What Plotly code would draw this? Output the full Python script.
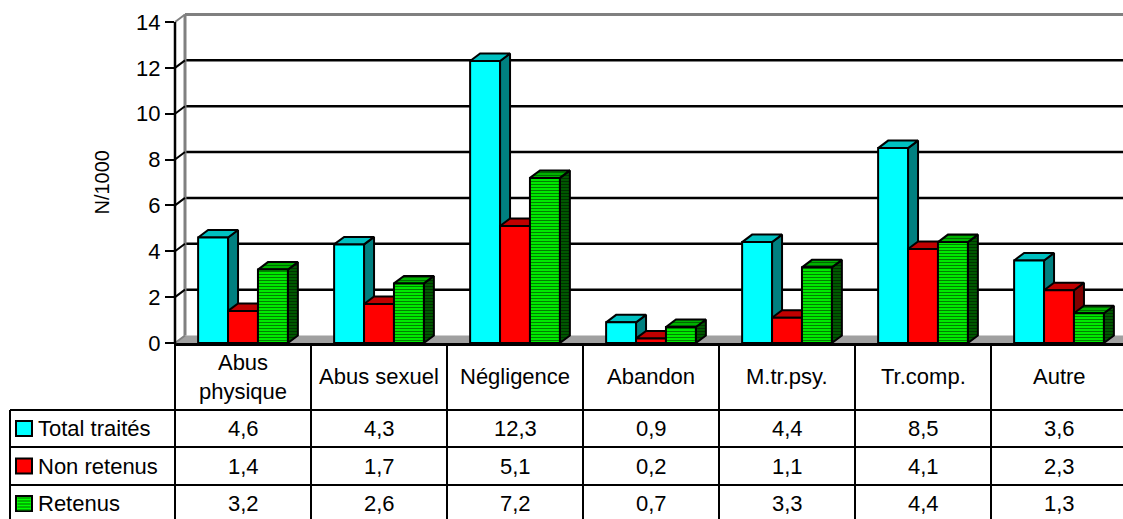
import plotly.graph_objects as go
import numpy as np

# ---- data -------------------------------------------------------------
categories = ["Abus physique", "Abus sexuel", "Négligence", "Abandon",
              "M.tr.psy.", "Tr.comp.", "Autre"]
header_labels = ["Abus<br>physique", "Abus sexuel", "Négligence", "Abandon",
                 "M.tr.psy.", "Tr.comp.", "Autre"]
series_names = ["Total traités", "Non retenus", "Retenus"]
total_traites = [4.6, 4.3, 12.3, 0.9, 4.4, 8.5, 3.6]
non_retenus = [1.4, 1.7, 5.1, 0.2, 1.1, 4.1, 2.3]
retenus = [3.2, 2.6, 7.2, 0.7, 3.3, 4.4, 1.3]
y_ticks = list(range(0, 15, 2))

# ---- geometry (pixels) ------------------------------------------------
W, H = 1123, 519
X0PX = 175          # front vertical axis
CW = 136            # pixels per category
Y0PX = 343          # value 0 on the front
UPX = 22.93         # pixels per unit
TOPPX = 12          # top of plotting area
DXPX, DYPX = 10, 7.5  # depth of the 3-D effect

DX = DXPX / CW
DY = DYPX / UPX
XMAX = -0.5 + (W - X0PX) / CW
YMAX = (Y0PX - TOPPX) / UPX

BW = 0.22
OFFSETS = [-0.33, -0.11, 0.11]

FONT = "Arial, 'Liberation Sans', sans-serif"
TXT = 22


def xp(px):
    return px / W


def yp(py):
    return 1 - py / H


def data_px_x(xd):
    return X0PX + (xd + 0.5) * CW


def data_px_y(yd):
    return Y0PX - yd * UPX


styles = [
    dict(front="#00FFFF", top="#00C0C0", side="#008080", pattern=None),
    dict(front="#FF0000", top="#C00000", side="#800000", pattern=None),
    dict(front="#00FF00", top="#00C000", side="#006000",
         pattern=("#008000", "#006800", "#003000")),
]
values = [total_traites, non_retenus, retenus]

fig = go.Figure()

# top and side faces of each bar (drawn on the base axes)
for s, (vals, st, off) in enumerate(zip(values, styles, OFFSETS)):
    tops_x, tops_y, sides_x, sides_y = [], [], [], []
    for i, v in enumerate(vals):
        x0 = i + off
        x1 = x0 + BW
        tops_x += [x0, x1, x1 + DX, x0 + DX, x0, None]
        tops_y += [v, v, v + DY, v + DY, v, None]
        sides_x += [x1, x1, x1 + DX, x1 + DX, x1, None]
        sides_y += [0, v, v + DY, DY, 0, None]
    for fx, fy, col, pidx in [(sides_x, sides_y, st["side"], 2),
                              (tops_x, tops_y, st["top"], 1)]:
        kw = {}
        if st["pattern"]:
            kw["fillpattern"] = dict(shape="-", bgcolor=col,
                                     fgcolor=st["pattern"][pidx],
                                     size=3, solidity=0.45)
        fig.add_trace(go.Scatter(
            x=fx, y=fy, mode="lines", fill="toself", fillcolor=col,
            line=dict(color="black", width=2), hoverinfo="skip",
            showlegend=False, **kw))

# front faces (overlay axes so they sit above the faces behind them)
for name, vals, st, off in zip(series_names, values, styles, OFFSETS):
    marker = dict(color=st["front"], line=dict(color="black", width=2))
    if st["pattern"]:
        marker["pattern"] = dict(shape="-", bgcolor=st["front"],
                                 fgcolor=st["pattern"][0], size=3,
                                 solidity=0.45, fillmode="replace")
    fig.add_trace(go.Bar(
        x=list(range(len(categories))), y=vals, width=BW, offset=off,
        name=name, marker=marker, xaxis="x2", yaxis="y2",
        showlegend=False))

shapes = []
# floor
shapes.append(dict(type="path", xref="x", yref="y", layer="below",
                   path=f"M-0.5,0 L{XMAX},0 L{XMAX},{DY} L{-0.5 + DX},{DY} Z",
                   fillcolor="#A0A0A0", line=dict(width=0)))
# back-wall gridlines and side-wall diagonals
for t in y_ticks:
    if t == 0:
        continue
    grid_col = "#808080" if t == y_ticks[-1] else "black"
    grid_w = 3 if t == y_ticks[-1] else 2.5
    shapes.append(dict(type="line", xref="x", yref="y", layer="below",
                       x0=-0.5 + DX, x1=XMAX, y0=t + DY, y1=t + DY,
                       line=dict(color=grid_col, width=grid_w)))
    shapes.append(dict(type="line", xref="paper", yref="paper",
                       x0=xp(X0PX), x1=xp(X0PX + DXPX),
                       y0=yp(data_px_y(t)), y1=yp(data_px_y(t) - DYPX),
                       line=dict(color=grid_col, width=2)))
# left wall back edge
shapes.append(dict(type="line", xref="x", yref="y", layer="below",
                   x0=-0.5 + DX, x1=-0.5 + DX, y0=DY, y1=y_ticks[-1] + DY,
                   line=dict(color="#808080", width=3)))
# floor left edge
shapes.append(dict(type="line", xref="paper", yref="paper",
                   x0=xp(X0PX), x1=xp(X0PX + DXPX),
                   y0=yp(Y0PX), y1=yp(Y0PX - DYPX),
                   line=dict(color="#808080", width=2)))
# front vertical axis
shapes.append(dict(type="line", xref="paper", yref="paper",
                   x0=xp(X0PX), x1=xp(X0PX),
                   y0=yp(Y0PX), y1=yp(data_px_y(y_ticks[-1])),
                   line=dict(color="black", width=2.5)))

# ---- data table ---------------------------------------------------------
ROW_LINES = [410, 447, 485]
ROW_CENTERS = [428.5, 466, 503.5]
LEFT_PX = 10
tbl_line = dict(color="black", width=2)
for r in ROW_LINES:
    shapes.append(dict(type="line", xref="paper", yref="paper",
                       x0=xp(LEFT_PX), x1=1, y0=yp(r), y1=yp(r), line=tbl_line))
shapes.append(dict(type="line", xref="paper", yref="paper",
                   x0=xp(LEFT_PX), x1=xp(LEFT_PX), y0=yp(ROW_LINES[0]), y1=0,
                   line=tbl_line))
for k in range(len(categories)):
    bx = xp(data_px_x(k - 0.5))
    shapes.append(dict(type="line", xref="paper", yref="paper",
                       x0=bx, x1=bx, y0=yp(Y0PX), y1=0, line=tbl_line))

annotations = []
for k, lab in enumerate(header_labels):
    annotations.append(dict(x=k, xref="x", y=yp(376.5), yref="paper",
                            text=lab, showarrow=False, xanchor="center",
                            yanchor="middle",
                            font=dict(family=FONT, size=TXT, color="black")))

for name, vals, st, cy in zip(series_names, values, styles, ROW_CENTERS):
    # legend key
    shapes.append(dict(type="rect", xref="paper", yref="paper",
                       x0=xp(16), x1=xp(32), y0=yp(cy + 7.5), y1=yp(cy - 7.5),
                       fillcolor=st["front"], line=dict(color="black", width=2)))
    if st["pattern"]:
        for sy in np.arange(cy - 5.5, cy + 7, 3):
            shapes.append(dict(type="line", xref="paper", yref="paper",
                               x0=xp(17.5), x1=xp(30.5), y0=yp(sy), y1=yp(sy),
                               line=dict(color=st["pattern"][0], width=1.2)))
    annotations.append(dict(x=xp(36), xref="paper", y=yp(cy), yref="paper",
                            text=name, showarrow=False, xanchor="left",
                            yanchor="middle",
                            font=dict(family=FONT, size=TXT, color="black")))
    for k, v in enumerate(vals):
        annotations.append(dict(x=k, xref="x", y=yp(cy), yref="paper",
                                text=f"{v:.1f}".replace(".", ","),
                                showarrow=False, xanchor="center",
                                yanchor="middle",
                                font=dict(family=FONT, size=TXT, color="black")))

# axis title
annotations.append(dict(x=xp(101), xref="paper", y=yp(182.5), yref="paper",
                        text="N/1000", textangle=-90, showarrow=False,
                        xanchor="center", yanchor="middle",
                        font=dict(family=FONT, size=20, color="black")))

x_dom = [xp(X0PX), 1]
y_dom = [yp(Y0PX), yp(TOPPX)]

fig.update_layout(
    template="none",
    width=W, height=H, autosize=False,
    margin=dict(l=0, r=0, t=0, b=0, pad=0),
    paper_bgcolor="white", plot_bgcolor="rgba(0,0,0,0)",
    barmode="overlay",
    xaxis=dict(domain=x_dom, range=[-0.5, XMAX], showgrid=False,
               automargin=False,
               zeroline=False, showticklabels=False, ticks="",
               showline=True, linecolor="black", linewidth=2.5),
    yaxis=dict(domain=y_dom, range=[0, YMAX], showgrid=False, zeroline=False,
               automargin=False,
               showline=False, tickmode="array", tickvals=y_ticks,
               ticktext=[str(t) for t in y_ticks], ticks="outside",
               ticklen=9, tickwidth=2, tickcolor="black",
               tickfont=dict(family=FONT, size=TXT, color="black")),
    xaxis2=dict(domain=x_dom, range=[-0.5, XMAX], overlaying="x",
                automargin=False, visible=False),
    yaxis2=dict(domain=y_dom, range=[0, YMAX], overlaying="y",
                automargin=False, visible=False),
    shapes=shapes,
    annotations=annotations,
    showlegend=False,
)

fig.write_html("out.html")
